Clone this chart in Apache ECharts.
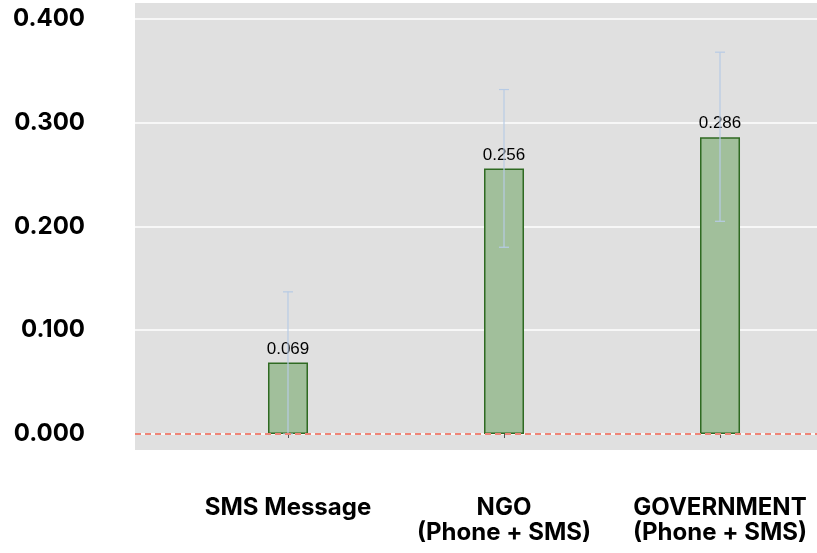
<!DOCTYPE html>
<html>
<head>
<meta charset="utf-8">
<script src="https://cdn.jsdelivr.net/npm/echarts@6/dist/echarts.min.js"></script>
<style>html,body{margin:0;padding:0;background:#fff;}#c{width:817px;height:553px;}</style>
</head>
<body>
<div id="c"></div>
<script>
const categories = ['SMS Message', 'NGO\n(Phone + SMS)', 'GOVERNMENT\n(Phone + SMS)'];
const values = [0.069, 0.256, 0.286];
const errLow = [0.000, 0.180, 0.205];
const errHigh = [0.137, 0.332, 0.368];
const yTicks = [0, 0.1, 0.2, 0.3, 0.4];
const xTicks = [0, 1, 2];

const chart = echarts.init(document.getElementById('c'), null, {renderer: 'canvas'});
const barData = values.map((v, i) => [i, v]);
const errData = values.map((v, i) => [i, errLow[i], errHigh[i]]);

chart.setOption({
  animation: false,
  backgroundColor: '#ffffff',
  grid: {
    left: 135, right: 0, top: 3, bottom: 103,
    show: true, backgroundColor: '#e0e0e0', borderWidth: 0
  },
  xAxis: {
    type: 'value',
    min: -0.7083, max: 2.449,
    axisLine: {show: false},
    splitLine: {show: false},
    axisTick: {show: true, customValues: xTicks, length: 4, lineStyle: {color: '#555', width: 1}},
    axisLabel: {
      customValues: xTicks,
      formatter: v => categories[Math.round(v)],
      margin: 46,
      fontFamily: 'Inter', fontWeight: 'bold', fontSize: 24,
      lineHeight: 24.5, color: '#000',
      hideOverlap: false
    }
  },
  yAxis: {
    type: 'value',
    min: -0.01542, max: 0.4154,
    axisLine: {show: false},
    axisTick: {show: false, customValues: yTicks},
    splitLine: {show: true, lineStyle: {color: '#ffffff', width: 1.5}},
    axisLabel: {
      customValues: yTicks,
      formatter: v => v.toFixed(3),
      margin: 50,
      fontFamily: 'Inter', fontWeight: 'bold', fontSize: 24, color: '#000'
    }
  },
  series: [
    {
      type: 'bar',
      data: barData,
      barWidth: 40,
      itemStyle: {color: '#a1bf9b', borderColor: '#2f6a22', borderWidth: 1.5},
      label: {
        show: true, position: 'top', distance: 5,
        formatter: p => p.value[1].toFixed(3),
        fontFamily: 'Liberation Sans', fontSize: 17, color: '#000'
      },
      markLine: {
        silent: true, symbol: 'none',
        label: {show: false},
        lineStyle: {color: '#ee8577', type: [6, 4], width: 2},
        data: [{yAxis: 0}]
      }
    },
    {
      type: 'custom',
      data: errData,
      z: 3,
      renderItem: function (params, api) {
        const x = api.value(0);
        const lo = api.coord([x, api.value(1)]);
        const hi = api.coord([x, api.value(2)]);
        const hw = 5;
        const style = {stroke: '#b7cbe5', lineWidth: 1.2, fill: null};
        return {
          type: 'group',
          children: [
            {type: 'line', shape: {x1: hi[0], y1: hi[1], x2: lo[0], y2: lo[1]}, style: style},
            {type: 'line', shape: {x1: hi[0] - hw, y1: hi[1], x2: hi[0] + hw, y2: hi[1]}, style: style},
            {type: 'line', shape: {x1: lo[0] - hw, y1: lo[1], x2: lo[0] + hw, y2: lo[1]}, style: style}
          ]
        };
      }
    }
  ]
});
</script>
</body>
</html>
